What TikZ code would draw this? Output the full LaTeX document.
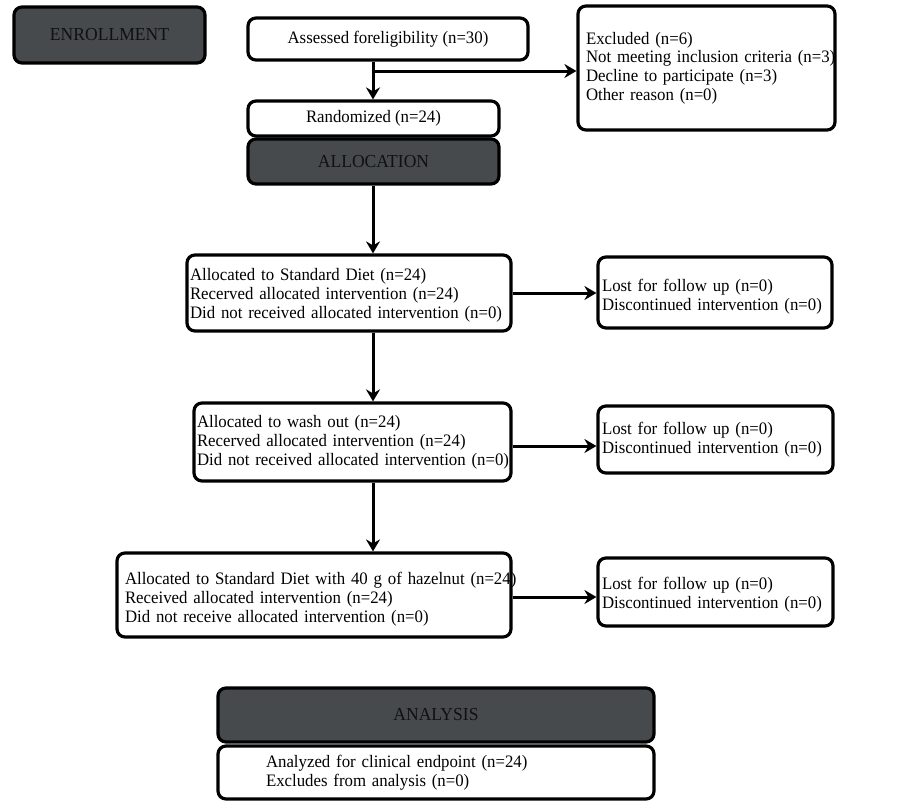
\documentclass[tikz,border=0pt]{standalone}
\usepackage{fontspec}
\setmainfont{Liberation Serif}[FakeStretch=0.96]
\usetikzlibrary{arrows.meta}
\definecolor{hdrgray}{HTML}{464A4D}
\definecolor{hdrtext}{HTML}{101010}
\newcommand{\tl}[1]{\mbox{#1}}
\newcommand{\tsh}[1]{\rule{0pt}{#1}}
\begin{document}
\begin{tikzpicture}[x=1pt,y=-1pt,
  box/.style={draw, line width=3.2pt, rounded corners=8pt, fill=white,
    inner ysep=0pt, font=\fontsize{17.5}{18.8}\selectfont},
  lbox/.style={box, align=left},
  hdr/.style={box, fill=hdrgray, text=hdrtext, align=center, font=\fontsize{18.3}{20}\selectfont},
  arr/.style={line width=3pt, -{Stealth[length=12pt,width=14pt,inset=4pt]}}]
\useasboundingbox (0,0) rectangle (903,803);
\coordinate (cx) at (373,0);
\node[hdr, minimum width=191pt, minimum height=56pt] (enr) at (109.5,35) {ENROLLMENT};
\node[box, minimum width=280pt, minimum height=42pt] (assess) at (388,39) {Assessed foreligibility (n=30)};
\node[lbox, minimum width=257pt, minimum height=124pt, inner xsep=8pt, text width=241pt] (excl) at (706.5,68)
  {\tl{Excluded (n=6)}\\\tl{Not meeting inclusion criteria (n=3)}\\\tl{Decline to participate (n=3)}\\\tl{Other reason (n=0)}\\[5pt]};
\node[box, minimum width=251pt, minimum height=35pt] (rand) at (373.5,118.5) {Randomized (n=24)};
\node[hdr, minimum width=251pt, minimum height=45pt] (alloc) at (373.5,161.5) {ALLOCATION};
\node[lbox, minimum width=324pt, minimum height=76pt, inner xsep=3pt, text width=318pt] (b1) at (349,293)
  {\tsh{17pt}\tl{Allocated to Standard Diet (n=24)}\\\tl{Recerved allocated intervention (n=24)}\\\tl{Did not received allocated intervention (n=0)}};
\node[lbox, minimum width=234pt, minimum height=71pt, inner xsep=4pt, text width=226pt] (l1) at (715,292.5)
  {\tsh{21pt}\tl{Lost for follow up (n=0)}\\\tl{Discontinued intervention (n=0)}};
\node[lbox, minimum width=317pt, minimum height=78pt, inner xsep=3pt, text width=311pt] (b2) at (352.5,442)
  {\tl{Allocated to wash out (n=24)}\\\tl{Recerved allocated intervention (n=24)}\\\tl{Did not received allocated intervention (n=0)}};
\node[lbox, minimum width=235pt, minimum height=67pt, inner xsep=4pt, text width=227pt] (l2) at (715.5,439.5)
  {\tl{Lost for follow up (n=0)}\\\tl{Discontinued intervention (n=0)}};
\node[lbox, minimum width=394pt, minimum height=84pt, inner xsep=8pt, text width=378pt] (b3) at (314,595)
  {\tsh{21pt}\tl{Allocated to Standard Diet with 40 g of hazelnut (n=24)}\\\tl{Received allocated intervention (n=24)}\\\tl{Did not receive allocated intervention (n=0)}};
\node[lbox, minimum width=235pt, minimum height=68pt, inner xsep=4pt, text width=227pt] (l3) at (715.5,592)
  {\tsh{17pt}\tl{Lost for follow up (n=0)}\\\tl{Discontinued intervention (n=0)}};
\node[hdr, minimum width=436pt, minimum height=54pt] (ana) at (436,715) {ANALYSIS};
\node[lbox, minimum width=436pt, minimum height=53pt, inner xsep=48pt, text width=340pt] (anz) at (436,772.5)
  {\tl{Analyzed for clinical endpoint (n=24)}\\\tl{Excludes from analysis (n=0)}};
\coordinate (br) at (373,71);
\draw[arr] (assess.south -| cx) -- (rand.north -| cx);
\draw[arr] (br) -- (br -| excl.west);
\draw[arr] (alloc.south -| cx) -- (b1.north -| cx);
\draw[arr] (b1.south -| cx) -- (b2.north -| cx);
\draw[arr] (b2.south -| cx) -- (b3.north -| cx);
\draw[arr] (b1.east) -- (b1.east -| l1.west);
\draw[arr] ([yshift=-4pt]b2.east) -- ([yshift=-4pt]b2.east -| l2.west);
\draw[arr] ([yshift=-2pt]b3.east) -- ([yshift=-2pt]b3.east -| l3.west);
\end{tikzpicture}
\end{document}
